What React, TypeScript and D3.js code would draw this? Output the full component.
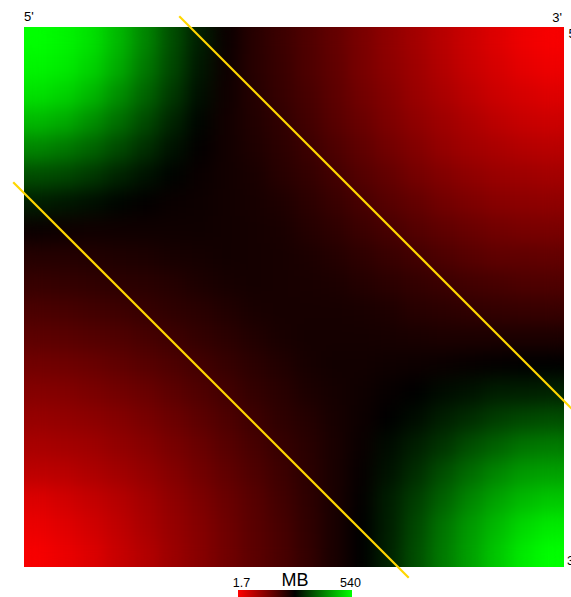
import React from 'react';
import * as d3 from 'd3';

// sequence bins along both axes (5' -> 3')
const bins = d3.range(20);

// pairwise matrix, MB, rows top -> bottom, columns left -> right
const mbMatrix: number[][] = [
  [540, 529, 508, 465, 411, 352, 303, 260, 230, 209, 187, 166, 142, 120, 99, 77, 56, 37, 20, 10],
  [529, 519, 494, 451, 397, 346, 295, 257, 230, 212, 190, 169, 144, 123, 104, 82, 61, 45, 29, 20],
  [508, 494, 465, 422, 376, 330, 287, 255, 233, 214, 196, 174, 150, 131, 109, 91, 72, 56, 45, 37],
  [465, 451, 422, 387, 349, 309, 276, 252, 236, 220, 201, 179, 160, 139, 120, 104, 88, 72, 61, 56],
  [411, 397, 376, 349, 319, 290, 268, 252, 239, 225, 209, 190, 171, 150, 134, 115, 101, 91, 82, 77],
  [352, 346, 330, 309, 290, 274, 260, 252, 244, 230, 217, 201, 182, 166, 147, 134, 120, 109, 104, 99],
  [303, 295, 287, 276, 268, 260, 257, 252, 247, 239, 225, 212, 196, 179, 166, 150, 139, 128, 123, 120],
  [260, 257, 255, 255, 255, 255, 255, 252, 249, 244, 233, 222, 209, 196, 182, 171, 160, 150, 144, 142],
  [233, 233, 236, 239, 241, 247, 249, 252, 249, 247, 241, 233, 222, 212, 201, 190, 179, 171, 169, 166],
  [214, 217, 220, 225, 228, 233, 241, 247, 249, 247, 244, 241, 233, 225, 217, 209, 201, 196, 190, 187],
  [193, 196, 201, 206, 214, 222, 228, 236, 244, 247, 247, 247, 244, 239, 230, 225, 220, 217, 214, 212],
  [174, 177, 182, 187, 196, 206, 217, 225, 236, 244, 249, 249, 249, 247, 244, 241, 241, 241, 241, 241],
  [152, 155, 160, 169, 179, 190, 201, 214, 225, 236, 247, 252, 252, 255, 257, 260, 265, 268, 271, 271],
  [131, 134, 142, 150, 160, 174, 187, 201, 217, 228, 241, 249, 255, 263, 271, 282, 290, 301, 303, 306],
  [112, 117, 123, 131, 144, 158, 174, 190, 206, 222, 233, 247, 257, 271, 284, 303, 317, 335, 346, 352],
  [93, 99, 104, 117, 128, 144, 160, 179, 196, 214, 228, 244, 260, 282, 303, 325, 352, 373, 392, 400],
  [72, 77, 88, 101, 115, 131, 150, 169, 187, 206, 225, 244, 265, 290, 317, 352, 384, 411, 432, 440],
  [39, 50, 64, 80, 99, 120, 139, 160, 179, 201, 222, 244, 268, 301, 335, 373, 411, 443, 467, 481],
  [23, 34, 50, 69, 91, 112, 131, 155, 177, 196, 220, 244, 271, 303, 346, 392, 432, 467, 500, 519],
  [10, 23, 39, 61, 82, 107, 128, 152, 174, 193, 217, 244, 271, 306, 352, 400, 440, 481, 519, 540],
];

const legendMin = 1.7;
const legendMax = 540;
const legendUnit = 'MB';
const endLabels = ["5'", "3'"];

// diagonal band limits, in bins from the main diagonal
const bandOffset = 6.15;
const bandOverhang = 0.4;

const W = 571;
const H = 597;
const left = 24;
const top = 27;
const size = 540;
const font = '"Liberation Sans", Arial, sans-serif';

const App = () => {
  const x = d3.scaleBand<number>().domain(bins).range([left, left + size]);
  const y = d3.scaleBand<number>().domain(bins).range([top, top + size]);
  const pos = d3.scaleLinear().domain([0, bins.length]).range([0, size]);
  const color = d3
    .scaleLinear<string>()
    .domain([legendMin, (legendMin + legendMax) / 2, legendMax])
    .range(['#ff0000', '#000000', '#00ff00'])
    .clamp(true);

  const legendX = d3.scaleLinear().domain([legendMin, legendMax]).range([238, 352]);
  const stops = d3.range(0, 1.0001, 0.1);

  const n = bins.length;
  const bands = [
    // upper band edge
    {
      x1: left + pos(bandOffset - bandOverhang), y1: top + pos(-bandOverhang),
      x2: left + pos(n + bandOverhang), y2: top + pos(n - bandOffset + bandOverhang),
    },
    // lower band edge
    {
      x1: left + pos(-bandOverhang), y1: top + pos(bandOffset - bandOverhang),
      x2: left + pos(n - bandOffset + bandOverhang), y2: top + pos(n + bandOverhang),
    },
  ];

  return (
    <svg
      width={W}
      height={H}
      style={{ position: 'absolute', left: 0, top: 0, background: '#fff' }}
      fontFamily={font}
    >
      <defs>
        <linearGradient id="mbGrad" x1="0" x2="1" y1="0" y2="0">
          {stops.map(t => (
            <stop
              key={t}
              offset={`${t * 100}%`}
              stopColor={color(legendMin + t * (legendMax - legendMin))}
            />
          ))}
        </linearGradient>
        {/* soften the coarse bins the way the fine original grid looks */}
        <filter
          id="smooth"
          filterUnits="userSpaceOnUse"
          x={left}
          y={top}
          width={size}
          height={size}
          colorInterpolationFilters="sRGB"
        >
          <feGaussianBlur stdDeviation="9" edgeMode="duplicate" />
          <feComponentTransfer>
            <feFuncA type="table" tableValues="1 1" />
          </feComponentTransfer>
        </filter>
      </defs>

      <g shapeRendering="crispEdges" filter="url(#smooth)">
        {mbMatrix.map((row, j) =>
          row.map((v, i) => (
            <rect
              key={`${j}-${i}`}
              x={x(bins[i])}
              y={y(bins[j])}
              width={x.bandwidth()}
              height={y.bandwidth()}
              fill={color(v)}
            />
          ))
        )}
      </g>

      {bands.map((b, k) => (
        <line key={k} x1={b.x1} y1={b.y1} x2={b.x2} y2={b.y2} stroke="#ffd700" strokeWidth={2.2} />
      ))}

      <text x={left} y={21} fontSize={13} fill="#000">{endLabels[0]}</text>
      <text x={562} y={22} fontSize={13} textAnchor="end" fill="#000">{endLabels[1]}</text>
      <text x={568.5} y={37.5} fontSize={13} fill="#000">{endLabels[0]}</text>
      <text x={567} y={565} fontSize={13} fill="#000">{endLabels[1]}</text>

      <g>
        <rect x={legendX(legendMin)} y={590} width={legendX(legendMax) - legendX(legendMin)} height={12} fill="url(#mbGrad)" />
        <text x={legendX(legendMin) + 3.5} y={587} fontSize={12.5} textAnchor="middle" fill="#000">{legendMin}</text>
        <text x={(legendX(legendMin) + legendX(legendMax)) / 2} y={586} fontSize={18} textAnchor="middle" fill="#000">{legendUnit}</text>
        <text x={legendX(legendMax) - 1.5} y={587} fontSize={12.5} textAnchor="middle" fill="#000">{legendMax}</text>
      </g>
    </svg>
  );
};

export default App;
